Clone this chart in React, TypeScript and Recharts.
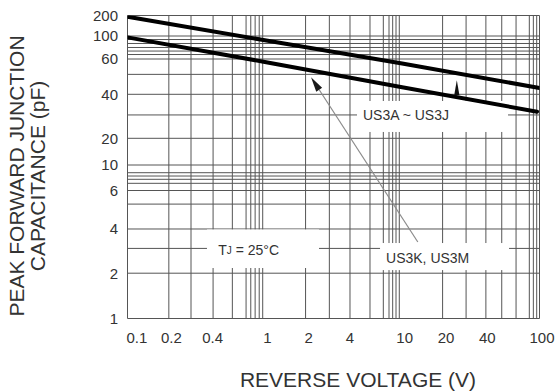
import React from 'react';
import {
  LineChart,
  Line,
  XAxis,
  YAxis,
  CartesianGrid,
  ReferenceArea,
  ReferenceLine,
} from 'recharts';

// ---------- data ----------
const voltage = [0.1, 1, 10, 96, 100];
const capUS3AtoJ: (number | null)[] = [192, 91, 57, null, 43];
const capUS3KtoM: (number | null)[] = [97, 58, 43.4, 30.4, null];

const xTicks = [0.1, 0.2, 0.4, 1, 2, 4, 10, 20, 40, 100];
const yTicks = [1, 2, 4, 6, 10, 20, 40, 60, 100, 200];

const xGridValues = [
  0.1, 0.2, 0.29, 0.42, 0.58, 0.73, 0.79, 0.85, 0.91, 0.965,
  1.98, 2.95, 4.17, 5.83, 7.29, 8.02, 8.53, 9.02, 9.53,
  19.7, 29.2, 40.7, 53.1, 67.5, 84.3, 90.2, 95.4, 100,
];
const yGridValues = [
  1, 2, 2.95, 4, 5.2, 6, 6.93, 7.51, 8.02, 8.57, 10, 20, 28.9, 40, 50.3, 60,
  66.3, 71.6, 77.5, 84.7, 92.5, 100, 200,
];

const data = voltage.map((v, i) => ({ v, a: capUS3AtoJ[i], k: capUS3KtoM[i] }));

// ---------- warped (hand-drawn datasheet) capacitance axis ----------
// relative height of each labelled tick along the axis (0 = bottom, 1 = top)
const yTickFractions = [0, 0.1495, 0.2954, 0.4224, 0.5066, 0.5947, 0.7399, 0.8564, 0.9323, 1];

function makeWarpScale(values: number[], fracs: number[]): any {
  let dom = [values[0], values[values.length - 1]];
  let rng = [0, 1];
  const L = values.map((v) => Math.log(v));
  const toFrac = (v: number) => {
    const lv = Math.log(Number(v));
    let i = 0;
    while (i < L.length - 2 && lv > L[i + 1]) i++;
    const t = (lv - L[i]) / (L[i + 1] - L[i]);
    return fracs[i] + t * (fracs[i + 1] - fracs[i]);
  };
  const fromFrac = (f: number) => {
    let i = 0;
    while (i < fracs.length - 2 && f > fracs[i + 1]) i++;
    const t = (f - fracs[i]) / (fracs[i + 1] - fracs[i]);
    return Math.exp(L[i] + t * (L[i + 1] - L[i]));
  };
  const scale: any = (v: number) => rng[0] + toFrac(v) * (rng[1] - rng[0]);
  scale.domain = (d?: number[]) => {
    if (d === undefined) return dom.slice();
    dom = d.slice();
    return scale;
  };
  scale.range = (r?: number[]) => {
    if (r === undefined) return rng.slice();
    rng = r.slice();
    return scale;
  };
  scale.copy = () => makeWarpScale(values, fracs).domain(dom).range(rng);
  scale.invert = (px: number) => fromFrac((px - rng[0]) / (rng[1] - rng[0]));
  scale.ticks = () => values.slice();
  scale.tickFormat = () => (v: number) => String(v);
  scale.nice = () => scale;
  return scale;
}

const yWarpScale = makeWarpScale(yTicks, yTickFractions);

const FONT = '"Liberation Sans", Arial, sans-serif';
const TEXT = '#333';

const XTick = (props: any) => {
  const { x, y, payload, index } = props;
  const first = index === 0;
  return (
    <text
      x={first ? x - 1 : x + 2.5}
      y={y}
      dy="0.71em"
      textAnchor={first ? 'start' : 'middle'}
      fill={TEXT}
      fontSize={15}
      fontFamily={FONT}
    >
      {payload.value}
    </text>
  );
};

const LabelBox = (props: any) => {
  const { x, y, width, height, dx, dyc, children } = props;
  return (
    <g>
      <rect x={x} y={y} width={width} height={height} fill="#fff" stroke="none" />
      <text
        x={x + dx}
        y={y + height / 2 + dyc}
        dominantBaseline="central"
        fill={TEXT}
        fontSize={14}
        fontFamily={FONT}
      >
        {children}
      </text>
    </g>
  );
};

const PointerArrow = (p: any) => {
  const { x1, y1, x2, y2 } = p;
  if ([x1, y1, x2, y2].some((n) => n == null || isNaN(n))) return null;
  const ang = Math.atan2(y2 - y1, x2 - x1);
  const len = 15;
  const half = 3.5;
  const bx = x2 - len * Math.cos(ang);
  const by = y2 - len * Math.sin(ang);
  const px = -Math.sin(ang) * half;
  const py = Math.cos(ang) * half;
  return (
    <g>
      <line x1={x1} y1={y1} x2={bx} y2={by} stroke="#8a8a8a" strokeWidth={1.2} />
      <polygon points={`${x2},${y2} ${bx + px},${by + py} ${bx - px},${by - py}`} fill="#1a1a1a" />
    </g>
  );
};

const UpTriangle = (p: any) => {
  const { x1, y1, x2, y2 } = p;
  if ([x1, y1, x2, y2].some((n) => n == null || isNaN(n))) return null;
  return <polygon points={`${x2},${y2} ${x1 - 2.6},${y1} ${x1 + 2.6},${y1}`} fill="#111" />;
};

export default function App() {
  return (
    <div style={{ position: 'absolute', left: 0, top: 0, width: 558, height: 391, background: '#fff' }}>
      <LineChart
        width={558}
        height={391}
        data={data}
        margin={{ top: 15.5, right: 18.5, bottom: 42.5, left: 87.5 }}
      >
        <CartesianGrid
          horizontalValues={yGridValues}
          verticalValues={xGridValues}
          stroke="#555"
          strokeWidth={1}
          fill="none"
        />
        <XAxis
          dataKey="v"
          type="number"
          scale="log"
          domain={[0.1, 100]}
          ticks={xTicks}
          interval={0}
          allowDataOverflow
          axisLine={false}
          tickLine={false}
          tickSize={0}
          tickMargin={14}
          height={30}
          tick={<XTick />}
        />
        <YAxis
          type="number"
          scale={yWarpScale}
          domain={[1, 200]}
          ticks={yTicks}
          interval={0}
          allowDataOverflow
          axisLine={false}
          tickLine={false}
          tickSize={0}
          tickMargin={9.5}
          width={40}
          tick={{ fill: TEXT, fontSize: 15, fontFamily: FONT }}
        />
        <ReferenceArea
          x1={4.69}
          x2={59}
          y1={22.1}
          y2={36}
          shape={(p: any) => (
            <LabelBox {...p} dx={6} dyc={-1.5}>
              US3A ~ US3J
            </LabelBox>
          )}
        />
        <ReferenceArea
          x1={0.379}
          x2={2.48}
          y1={2.17}
          y2={3.97}
          shape={(p: any) => (
            <LabelBox {...p} dx={11.3} dyc={1.5}>
              <tspan>T</tspan>
              <tspan fontSize={10}>J</tspan>
              <tspan> = 25°C</tspan>
            </LabelBox>
          )}
        />
        <ReferenceArea
          x1={6.9}
          x2={60}
          y1={2.1}
          y2={3.21}
          shape={(p: any) => (
            <LabelBox {...p} dx={6} dyc={1}>
              US3K, US3M
            </LabelBox>
          )}
        />
        <Line
          dataKey="a"
          stroke="#000"
          strokeWidth={4}
          strokeLinecap="round"
          dot={false}
          activeDot={false}
          connectNulls
          isAnimationActive={false}
        />
        <Line
          dataKey="k"
          stroke="#000"
          strokeWidth={4}
          strokeLinecap="round"
          dot={false}
          activeDot={false}
          connectNulls
          isAnimationActive={false}
        />
        <ReferenceLine
          segment={[
            { x: 13, y: 3.26 },
            { x: 2.17, y: 48.7 },
          ]}
          shape={PointerArrow}
        />
        <ReferenceLine
          segment={[
            { x: 25, y: 39.4 },
            { x: 25, y: 47 },
          ]}
          shape={UpTriangle}
        />
        <text
          x={358}
          y={387}
          textAnchor="middle"
          fill={TEXT}
          fontSize={21}
          fontFamily={FONT}
        >
          REVERSE VOLTAGE (V)
        </text>
        <text
          transform="translate(24,176) rotate(-90)"
          textAnchor="middle"
          fill={TEXT}
          fontSize={21}
          fontFamily={FONT}
        >
          PEAK FORWARD JUNCTION
        </text>
        <text
          transform="translate(45,176) rotate(-90)"
          textAnchor="middle"
          fill={TEXT}
          fontSize={21}
          fontFamily={FONT}
        >
          CAPACITANCE (pF)
        </text>
      </LineChart>
    </div>
  );
}
